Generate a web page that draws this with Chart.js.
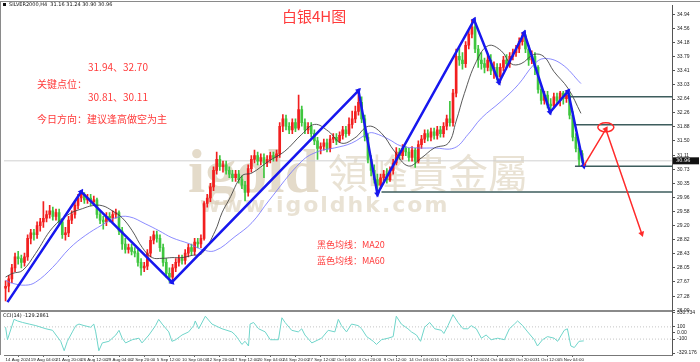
<!DOCTYPE html>
<html lang="zh">
<head>
<meta charset="utf-8">
<title>白银4H图</title>
<script src="https://cdn.jsdelivr.net/npm/chart.js@4.4.1/dist/chart.umd.min.js"></script>
<style>
  html, body { margin: 0; padding: 0; background: #ffffff; }
  canvas { display: block; }
</style>
</head>
<body>
<canvas id="chart" width="700" height="362"></canvas>
<script>
// SILVER2000 H4, 14 Aug - 6 Nov 2024, one candle for every two 4H bars
const timeLabels = [
  '14 Aug 2024', '19 Aug 04:00', '21 Aug 20:00', '26 Aug 12:00', '29 Aug 04:00',
  '2 Sep 20:00', '5 Sep 12:00', '10 Sep 04:00', '12 Sep 20:00', '17 Sep 12:00',
  '20 Sep 04:00', '24 Sep 20:00', '27 Sep 12:00', '2 Oct 04:00', '4 Oct 20:00',
  '9 Oct 12:00', '14 Oct 04:00', '16 Oct 20:00', '21 Oct 12:00', '24 Oct 04:00',
  '28 Oct 20:00', '31 Oct 12:00', '5 Nov 04:00',
];
const tickAt = [0, 8, 16, 24, 32, 40, 48, 56, 64, 72, 80, 88, 96, 104, 112, 120, 128, 136, 144, 152, 160, 168, 176];

const opens = [
  27.50, 27.55, 27.75, 28.05, 28.35, 28.30, 28.20, 28.35,
  28.85, 29.00, 28.95, 29.20, 29.30, 29.40, 29.50, 29.60,
  29.45, 29.55, 29.30, 28.95, 29.00, 29.35, 29.50, 29.75,
  29.95, 30.05, 29.90, 29.95, 29.85, 29.90, 29.50, 29.35,
  29.30, 29.45, 29.40, 29.50, 29.55, 29.05, 28.70, 28.55,
  28.60, 28.50, 28.45, 28.20, 28.05, 28.10, 28.45, 28.80,
  28.95, 28.85, 28.60, 28.20, 27.90, 27.80, 28.05, 28.20,
  28.30, 28.25, 28.45, 28.60, 28.50, 28.75, 28.70, 28.85,
  29.80, 29.95, 30.25, 30.70, 31.00, 30.80, 30.85, 30.70,
  30.60, 30.50, 30.60, 30.45, 30.30, 30.10, 30.75, 31.00,
  31.10, 30.95, 31.05, 30.90, 31.00, 31.10, 31.05, 31.15,
  31.90, 32.10, 31.90, 31.80, 32.00, 31.85, 32.35, 32.00,
  31.80, 31.90, 31.70, 31.50, 31.30, 31.35, 31.45, 31.30,
  31.55, 31.60, 31.50, 31.65, 31.80, 31.70, 31.95, 32.10,
  32.30, 32.55, 32.10, 31.60, 31.00, 30.70, 30.45, 30.30,
  30.50, 30.60, 30.45, 30.70, 30.90, 31.20, 31.10, 31.30,
  31.20, 31.05, 31.25, 30.95, 31.40, 31.55, 31.70, 31.60,
  31.75, 31.65, 31.80, 31.70, 31.90, 32.10, 32.00, 32.80,
  33.80, 33.70, 33.60, 34.10, 34.40, 34.60, 34.00, 33.70,
  33.60, 33.50, 33.70, 33.40, 33.50, 33.25, 33.50, 33.70,
  33.60, 33.80, 33.90, 34.00, 34.20, 34.35, 34.00, 33.70,
  33.80, 33.50, 32.90, 32.60, 32.75, 32.50, 32.45, 32.70,
  32.60, 32.80, 32.65, 32.75, 32.20, 31.60, 31.30, 31.16,
];
const highs = [
  27.70, 27.85, 28.15, 28.45, 28.50, 28.40, 28.45, 28.95,
  29.10, 29.10, 29.30, 29.40, 29.85, 29.60, 29.75, 29.70,
  29.65, 29.65, 29.40, 29.15, 29.45, 29.60, 29.85, 30.05,
  30.12, 30.10, 30.05, 30.05, 30.00, 29.95, 29.60, 29.45,
  29.55, 29.55, 29.60, 29.65, 29.60, 29.15, 28.85, 28.70,
  28.70, 28.60, 28.55, 28.30, 28.20, 28.55, 28.90, 29.05,
  29.05, 28.95, 28.70, 28.30, 28.05, 28.15, 28.30, 28.40,
  28.40, 28.55, 28.70, 28.70, 28.85, 28.85, 28.95, 29.85,
  30.05, 30.35, 30.80, 31.20, 31.10, 30.95, 30.95, 30.80,
  30.70, 30.70, 30.70, 30.55, 30.40, 30.85, 31.10, 31.25,
  31.20, 31.15, 31.15, 31.10, 31.20, 31.20, 31.25, 32.00,
  32.22, 32.20, 32.00, 32.10, 32.10, 32.75, 32.45, 32.10,
  32.00, 32.00, 31.80, 31.60, 31.45, 31.55, 31.55, 31.65,
  31.70, 31.70, 31.75, 31.90, 31.90, 32.13, 32.31, 32.45,
  32.87, 32.70, 32.20, 31.70, 31.10, 30.85, 30.60, 30.60,
  30.70, 30.75, 30.80, 31.00, 31.32, 31.30, 31.40, 31.35,
  31.30, 31.35, 31.30, 31.50, 31.65, 31.80, 31.80, 31.85,
  31.85, 31.90, 31.90, 32.00, 32.20, 32.58, 32.90, 34.00,
  34.05, 33.90, 34.20, 34.50, 34.79, 34.70, 34.10, 33.90,
  33.75, 33.85, 33.85, 33.65, 33.60, 33.60, 33.80, 33.85,
  33.90, 34.00, 34.10, 34.30, 34.44, 34.40, 34.10, 33.95,
  33.90, 33.55, 33.00, 32.85, 32.85, 32.65, 32.80, 32.80,
  32.85, 32.85, 32.87, 32.80, 32.30, 31.70, 31.45, 31.24,
];
const lows = [
  27.15, 27.40, 27.65, 27.95, 28.15, 28.05, 28.10, 28.25,
  28.70, 28.80, 28.85, 29.05, 29.15, 29.30, 29.40, 29.35,
  29.35, 29.20, 28.85, 28.80, 28.90, 29.25, 29.40, 29.65,
  29.85, 29.80, 29.80, 29.75, 29.75, 29.40, 29.25, 29.10,
  29.20, 29.30, 29.30, 29.40, 28.95, 28.55, 28.45, 28.45,
  28.40, 28.35, 28.10, 27.85, 27.95, 28.00, 28.35, 28.70,
  28.75, 28.50, 28.10, 27.80, 27.66, 27.70, 27.95, 28.10,
  28.15, 28.15, 28.35, 28.40, 28.40, 28.60, 28.60, 28.80,
  29.70, 29.85, 30.15, 30.60, 30.70, 30.65, 30.60, 30.50,
  30.40, 30.40, 30.35, 30.20, 29.87, 30.00, 30.65, 30.90,
  30.85, 30.85, 30.50, 30.80, 30.90, 30.95, 30.95, 31.05,
  31.75, 31.80, 31.70, 31.70, 31.75, 31.80, 31.90, 31.70,
  31.70, 31.60, 31.40, 31.00, 31.15, 31.25, 31.20, 31.20,
  31.45, 31.40, 31.45, 31.55, 31.60, 31.65, 31.85, 32.00,
  32.20, 32.00, 31.50, 30.90, 30.55, 30.35, 30.06, 30.20,
  30.40, 30.35, 30.40, 30.60, 30.85, 31.00, 31.00, 31.10,
  30.95, 30.95, 30.78, 30.90, 31.30, 31.45, 31.50, 31.50,
  31.55, 31.55, 31.60, 31.60, 31.80, 31.90, 31.90, 32.70,
  33.55, 33.45, 33.50, 34.00, 34.30, 33.90, 33.50, 33.45,
  33.35, 33.40, 33.30, 33.20, 33.15, 33.09, 33.40, 33.50,
  33.50, 33.70, 33.80, 33.90, 34.10, 33.90, 33.55, 33.60,
  33.30, 32.80, 32.50, 32.50, 32.40, 32.28, 32.40, 32.50,
  32.45, 32.50, 32.55, 32.10, 31.50, 31.20, 30.82, 30.90,
];
const closes = [
  27.55, 27.75, 28.05, 28.35, 28.30, 28.20, 28.35, 28.85,
  29.00, 28.95, 29.20, 29.30, 29.40, 29.50, 29.60, 29.45,
  29.55, 29.30, 28.95, 29.00, 29.35, 29.50, 29.75, 29.95,
  30.05, 29.90, 29.95, 29.85, 29.90, 29.50, 29.35, 29.30,
  29.45, 29.40, 29.50, 29.55, 29.05, 28.70, 28.55, 28.60,
  28.50, 28.45, 28.20, 28.05, 28.10, 28.45, 28.80, 28.95,
  28.85, 28.60, 28.20, 27.90, 27.80, 28.05, 28.20, 28.30,
  28.25, 28.45, 28.60, 28.50, 28.75, 28.70, 28.85, 29.80,
  29.95, 30.25, 30.70, 31.00, 30.80, 30.85, 30.70, 30.60,
  30.50, 30.60, 30.45, 30.30, 30.10, 30.75, 31.00, 31.10,
  30.95, 31.05, 30.90, 31.00, 31.10, 31.05, 31.15, 31.90,
  32.10, 31.90, 31.80, 32.00, 31.85, 32.35, 32.00, 31.80,
  31.90, 31.70, 31.50, 31.30, 31.35, 31.45, 31.30, 31.55,
  31.60, 31.50, 31.65, 31.80, 31.70, 31.95, 32.10, 32.30,
  32.55, 32.10, 31.60, 31.00, 30.70, 30.45, 30.30, 30.50,
  30.60, 30.45, 30.70, 30.90, 31.20, 31.10, 31.30, 31.20,
  31.05, 31.25, 30.95, 31.40, 31.55, 31.70, 31.60, 31.75,
  31.65, 31.80, 31.70, 31.90, 32.10, 32.00, 32.80, 33.80,
  33.70, 33.60, 34.10, 34.40, 34.60, 34.00, 33.70, 33.60,
  33.50, 33.70, 33.40, 33.50, 33.25, 33.50, 33.70, 33.60,
  33.80, 33.90, 34.00, 34.20, 34.35, 34.00, 33.70, 33.80,
  33.50, 32.90, 32.60, 32.75, 32.50, 32.45, 32.70, 32.60,
  32.80, 32.65, 32.75, 32.20, 31.60, 31.30, 31.00, 30.96,
];
const lastPrice = 30.96;

// moving averages (black MA20, blue MA60)
const ma20At = [0, 2.2, 5.4, 9.5, 14.9, 20.3, 24.4, 27.5, 30.7, 33.9,
  37, 40.2, 43.4, 46.5, 49.7, 52.8, 56, 59.2, 62.3, 66.5,
  68.7, 70.9, 75, 78.2, 83.5, 88.6, 94, 98.1, 102.5, 106.6,
  110.8, 115.2, 119.3, 123.4, 127.8, 132, 136.1, 140.5, 143, 145.6,
  149.4, 153.2, 157.3, 160.4, 163.6, 167.7, 170.9, 174, 178.5, 182.6];
const ma20 = [27.80, 27.90, 27.98, 28.44, 29.14, 29.52, 29.66, 29.74, 29.74, 29.60,
  29.41, 29.06, 28.60, 28.33, 28.31, 28.33, 28.33, 28.39, 28.44, 29.05,
  29.55, 29.90, 30.55, 30.63, 30.95, 31.22, 31.68, 31.95, 31.76, 31.44,
  31.58, 31.90, 31.71, 31.22, 30.82, 31.04, 31.31, 31.44, 32.04, 32.79,
  33.66, 34.09, 33.95, 33.60, 33.60, 33.85, 33.79, 33.39, 32.93, 32.25];
const ma60At = [0, 2.2, 6.3, 9.5, 14.9, 20.3, 25.3, 30.7, 34.8, 39.2,
  44.3, 48.7, 52.8, 58.2, 62.3, 66.5, 72.8, 78.2, 83.5, 94,
  99.4, 104.4, 109.8, 115.2, 117.1, 121.5, 125.6, 131, 136, 142.4,
  146.8, 151, 157.3, 162.7, 167.7, 170.9, 176.3, 182.6];
const ma60 = [27.71, 27.63, 27.58, 27.66, 28.06, 28.58, 28.93, 29.22, 29.41, 29.44,
  29.25, 29.06, 28.87, 28.71, 28.55, 28.52, 28.90, 29.28, 29.87, 30.95,
  31.22, 31.31, 31.44, 31.71, 31.71, 31.55, 31.36, 31.31, 31.31, 31.31,
  31.68, 32.12, 32.58, 33.03, 33.58, 33.74, 33.60, 33.06];

// hand-drawn swing line and the trade plan
const zigAt = [0.6, 24, 52.8, 112, 118, 148.7, 156.6, 164.6, 172.8, 178.5, 183.5];
const zigVal = [27.12, 30.12, 27.66, 32.87, 30.06, 34.79, 33.09, 34.44, 32.28, 32.85, 30.82];
const planAt = [183.5, 190.5, 201.9];
const planVal = [30.82, 31.82, 28.98];
const levels = [32.70, 31.94, 30.81, 30.11];
const levelFrom = [178.9, 181, 180.7, 119.3];

const priceTicks = [34.94, 34.56, 34.18, 33.79, 33.41, 33.03, 32.64, 32.26, 31.88, 31.50, 31.11,
  30.73, 30.35, 29.96, 29.58, 29.20, 28.82, 28.43, 28.05, 27.67, 27.28, 26.90];

// CCI(14)
const cciAt = [
  0, 0.6, 2.7, 3.8, 5.4, 7.5, 9.6, 12.8, 14.9, 16,
  17.5, 18.6, 19.6, 21.2, 22.3, 23.3, 24.9, 27, 28, 28.6,
  29.6, 30.7, 32.8, 35, 36, 37, 38.1, 40.2, 42.3, 43.3,
  45.5, 47.6, 48.6, 49.7, 51.8, 52.8, 54, 56, 58.1, 59.7,
  60.2, 61.3, 63.4, 65.5, 68.7, 71.8, 72.9, 74, 75, 76,
  77.1, 77.6, 78.7, 80.3, 82.4, 84, 86.6, 87.7, 88.7, 90.8,
  92.9, 94, 95, 97.2, 100.3, 102.4, 104.5, 105.6, 106.6, 108.2,
  109.8, 111.9, 113, 114.6, 116.7, 117.7, 119.3, 121.4, 123, 124,
  125.6, 127.7, 128.8, 130.4, 131.7, 133, 134.6, 136.2, 138.3, 139.1,
  140.4, 142, 143.6, 145.2, 146.7, 147.8, 149.4, 151, 152.5, 154.1,
  156.2, 158.3, 159.9, 161.5, 162.5, 164.1, 165.7, 167.8, 168.8, 170.4,
  172, 174.1, 175.2, 177.3, 178.3, 179.4, 180.5, 182, 183.5,
];
const cciVal = [
  95, -110, 223, 197, 172, 146, 121, 69, 44, -33,
  -136, -290, -136, 18, 121, 146, 121, 95, 146, 18,
  -290, -162, -136, -33, 44, -85, -162, -110, -85, -162,
  -33, 121, 223, 146, 18, -136, -110, -33, 18, 121,
  197, 69, 274, 146, 69, 18, -33, -110, -187, -136,
  -213, 146, 172, 69, 18, -110, -110, 249, 172, 44,
  18, 69, -33, -162, -85, 44, 18, 223, 121, 18,
  146, 121, 69, -59, -136, -187, -110, -85, -59, 274,
  146, 69, 18, -33, -136, 95, 172, 69, 44, -8,
  121, 300, 172, 69, 69, 121, 69, -85, -33, -110,
  -85, -110, 69, 146, 197, 121, 18, -110, -213, -110,
  -59, -85, -136, 44, 69, -213, -238, -136, -129,
];
const cciTicks = [330.734, 100, 0, -100, -329.176];
const cciTickText = ['330.734', '100', '0.00', '-100', '-329.176'];

const UP = '#f21f1f';
const DOWN = '#3fc63f';
const RIGHT_EDGE = 211.5;

Chart.defaults.font.family = '"Liberation Sans Narrow", "Liberation Sans", sans-serif';
Chart.defaults.color = '#222';

const candleColor = (ctx) => (closes[ctx.dataIndex] >= opens[ctx.dataIndex] ? UP : DOWN);

// turn each arrowhead along the segment that ends at it
const headRotation = (xs, ys, axis) => (ctx) => {
  const i = ctx.dataIndex;
  if (!i) return 0;
  const sx = ctx.chart.scales.x;
  const sy = ctx.chart.scales[axis];
  const dx = sx.getPixelForValue(xs[i]) - sx.getPixelForValue(xs[i - 1]);
  const dy = sy.getPixelForValue(ys[i]) - sy.getPixelForValue(ys[i - 1]);
  return (Math.atan2(dx, -dy) * 180) / Math.PI;
};

const flat = (from, to, v) => [{ x: from, y: v }, { x: to, y: v }];

const decor = {
  id: 'decor',
  beforeDatasetsDraw(chart) {
    const { ctx, chartArea } = chart;
    const y = chart.scales.y;
    ctx.save();
    ctx.beginPath();
    ctx.rect(chartArea.left, y.top, chartArea.right - chartArea.left, y.bottom - y.top);
    ctx.clip();
    ctx.textBaseline = 'alphabetic';
    ctx.fillStyle = 'rgba(205, 190, 158, 0.55)';
    ctx.font = 'bold 62px "Liberation Serif"';
    ctx.fillText('igold', 188, 192);
    ctx.fillStyle = 'rgba(218, 207, 183, 0.6)';
    ctx.font = '40px "Noto Sans CJK TC"';
    ctx.fillText('領峰貴金屬', 328, 188);
    ctx.font = 'bold 22px "DejaVu Sans"';
    ctx.letterSpacing = '2px';
    ctx.fillText('www.igoldhk.com', 200, 212);
    ctx.restore();
  },
  afterDatasetsDraw(chart) {
    const { ctx, chartArea } = chart;
    const { x, y, cci } = chart.scales;
    ctx.save();

    // circle round the rebound target
    ctx.strokeStyle = '#ff2a2a';
    ctx.lineWidth = 1.5;
    ctx.beginPath();
    ctx.ellipse(x.getPixelForValue(planAt[1]), y.getPixelForValue(planVal[1] + 0.05), 8, 4.5, 0, 0, Math.PI * 2);
    ctx.stroke();

    // notes
    ctx.fillStyle = '#ff3b3b';
    ctx.textBaseline = 'middle';
    ctx.font = '15px "Noto Sans CJK SC"';
    ctx.fillText('白银4H图', 282, 16.5);
    ctx.font = '10px "Noto Sans CJK SC"';
    ctx.fillText(levels[1].toFixed(2) + '、' + levels[0].toFixed(2), 88, 67.5);
    ctx.fillText('关键点位：', 37, 84);
    ctx.fillText(levels[2].toFixed(2) + '、' + levels[3].toFixed(2), 88, 97);
    ctx.fillText('今日方向：建议逢高做空为主', 37, 119);
    ctx.font = '9px "Noto Sans CJK SC"';
    ctx.fillText('黑色均线：MA20', 317, 244.5);
    ctx.fillText('蓝色均线：MA60', 317, 260.5);

    // window frame and pane separator
    ctx.strokeStyle = '#8a8a8a';
    ctx.lineWidth = 1;
    ctx.beginPath();
    ctx.moveTo(0, 1.5);
    ctx.lineTo(700, 1.5);
    ctx.moveTo(0.5, 1);
    ctx.lineTo(0.5, chartArea.bottom);
    ctx.moveTo(0, Math.round(y.bottom) + 0.5);
    ctx.lineTo(chartArea.right, Math.round(y.bottom) + 0.5);
    ctx.moveTo(0, Math.round(cci.top) + 1.5);
    ctx.lineTo(chartArea.right, Math.round(cci.top) + 1.5);
    ctx.stroke();

    // header lines
    const n = closes.length - 1;
    ctx.fillStyle = '#111';
    ctx.font = '5px "DejaVu Sans"';
    ctx.fillRect(3, 3, 3, 3);
    ctx.fillText('SILVER2000,H4  ' + [opens[n], highs[n], lows[n], closes[n]].map((v) => v.toFixed(2)).join(' '), 9, 5);
    ctx.fillText('CCI(14) -129.2861', 3, cci.top + 5);

    // last price tag on the axis
    const py = y.getPixelForValue(lastPrice);
    ctx.fillRect(chartArea.right + 1, py - 3.5, 26, 7);
    ctx.fillStyle = '#fff';
    ctx.fillText(lastPrice.toFixed(2), chartArea.right + 4, py);
    ctx.restore();
  },
};

const datasets = [
  {
    type: 'bar',
    data: highs.map((h, i) => ({ x: i, y: [lows[i], h] })),
    backgroundColor: candleColor,
    barThickness: 1,
    grouped: false,
    order: 10,
  },
  {
    type: 'bar',
    data: opens.map((o, i) => ({ x: i, y: [o, closes[i]] })),
    backgroundColor: candleColor,
    barThickness: 2,
    minBarLength: 1,
    grouped: false,
    order: 9,
  },
  {
    type: 'line',
    data: flat(-0.5, RIGHT_EDGE, lastPrice),
    borderColor: '#d0d0d0',
    borderWidth: 1,
    pointRadius: 0,
    order: 11,
  },
  {
    type: 'line',
    data: ma60At.map((v, i) => ({ x: v, y: ma60[i] })),
    borderColor: 'rgba(110, 110, 255, 0.8)',
    borderWidth: 1,
    pointRadius: 0,
    tension: 0.4,
    order: 6,
  },
  {
    type: 'line',
    data: ma20At.map((v, i) => ({ x: v, y: ma20[i] })),
    borderColor: 'rgba(60, 60, 60, 0.85)',
    borderWidth: 1,
    pointRadius: 0,
    tension: 0.4,
    order: 5,
  },
  ...levels.map((lv, i) => ({
    type: 'line',
    data: flat(levelFrom[i], RIGHT_EDGE, lv),
    borderColor: '#3d5d5d',
    borderWidth: 1.5,
    pointRadius: 0,
    order: 4,
  })),
  {
    type: 'line',
    data: zigAt.map((v, i) => ({ x: v, y: zigVal[i] })),
    borderColor: '#1717ee',
    borderWidth: 2.5,
    pointStyle: 'triangle',
    pointRadius: (ctx) => (ctx.dataIndex === 0 ? 0 : 3.5),
    pointBackgroundColor: '#1717ee',
    pointBorderWidth: 0,
    pointRotation: headRotation(zigAt, zigVal, 'y'),
    tension: 0,
    order: 3,
  },
  {
    type: 'line',
    data: planAt.map((v, i) => ({ x: v, y: planVal[i] })),
    borderColor: '#ff2a2a',
    borderWidth: 1.5,
    pointStyle: 'triangle',
    pointRadius: (ctx) => (ctx.dataIndex === 0 ? 0 : 3.5),
    pointBackgroundColor: '#ff2a2a',
    pointBorderWidth: 0,
    pointRotation: headRotation(planAt, planVal, 'y'),
    tension: 0,
    order: 2,
  },
  {
    type: 'line',
    yAxisID: 'cci',
    data: flat(-0.5, RIGHT_EDGE, 100),
    borderColor: '#c4c4c4',
    borderWidth: 1,
    borderDash: [1, 2],
    pointRadius: 0,
    order: 8,
  },
  {
    type: 'line',
    yAxisID: 'cci',
    data: flat(-0.5, RIGHT_EDGE, -100),
    borderColor: '#c4c4c4',
    borderWidth: 1,
    borderDash: [1, 2],
    pointRadius: 0,
    order: 8,
  },
  {
    type: 'line',
    yAxisID: 'cci',
    data: cciAt.map((v, i) => ({ x: v, y: cciVal[i] })),
    borderColor: '#6fd5ca',
    borderWidth: 1,
    pointRadius: 0,
    tension: 0,
    order: 7,
  },
];

new Chart(document.getElementById('chart'), {
  type: 'line',
  data: { datasets },
  options: {
    responsive: false,
    animation: false,
    devicePixelRatio: 1,
    layout: { padding: { left: 2, top: 3, right: 0, bottom: 0 } },
    plugins: { legend: { display: false }, tooltip: { enabled: false } },
    scales: {
      x: {
        type: 'linear',
        position: 'bottom',
        min: -0.5,
        max: RIGHT_EDGE,
        offset: false,
        grid: { drawOnChartArea: false, tickLength: 2, color: '#666' },
        border: { display: true, color: '#777' },
        afterBuildTicks: (axis) => { axis.ticks = tickAt.map((v) => ({ value: v })); },
        afterFit: (axis) => { axis.height = 7; },
        ticks: {
          autoSkip: false,
          maxRotation: 0,
          minRotation: 0,
          align: 'start',
          padding: 0,
          font: { size: 4.4 },
          callback: (v) => timeLabels[tickAt.indexOf(v)],
        },
      },
      y: {
        type: 'linear',
        position: 'right',
        stack: 'panes',
        stackWeight: 308,
        min: 26.895,
        max: 35.195,
        grid: { drawOnChartArea: false, tickLength: 3, color: '#555' },
        border: { display: true, color: '#555' },
        afterBuildTicks: (axis) => { axis.ticks = priceTicks.map((v) => ({ value: v })); },
        afterFit: (axis) => { axis.width = 28; },
        ticks: { autoSkip: false, padding: 2, font: { size: 5 }, callback: (v) => v.toFixed(2) },
      },
      cci: {
        type: 'linear',
        position: 'right',
        stack: 'panes',
        stackWeight: 45,
        min: -360,
        max: 370,
        grid: { drawOnChartArea: false, tickLength: 3, color: '#555' },
        border: { display: true, color: '#555' },
        afterBuildTicks: (axis) => { axis.ticks = cciTicks.map((v) => ({ value: v })); },
        afterFit: (axis) => { axis.width = 28; },
        ticks: {
          autoSkip: false,
          padding: 2,
          font: { size: 5 },
          callback: (v) => cciTickText[cciTicks.indexOf(v)],
        },
      },
    },
  },
  plugins: [decor],
});
</script>
</body>
</html>
